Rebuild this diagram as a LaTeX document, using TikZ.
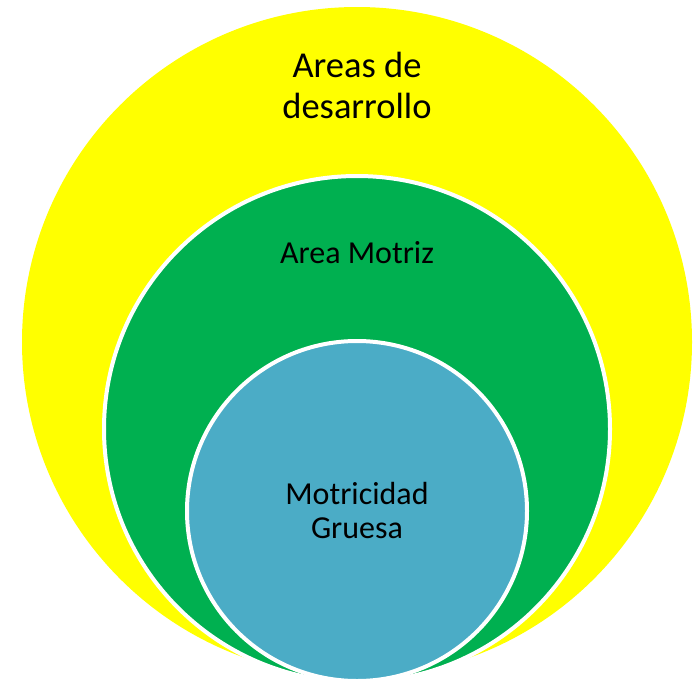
\documentclass[tikz,border=0pt]{standalone}
\usepackage{fontspec}
\setmainfont{Carlito}
\definecolor{ayellow}{HTML}{FFFF00}
\definecolor{agreen}{HTML}{00B050}
\definecolor{ablue}{HTML}{4BACC6}
\begin{document}
\begin{tikzpicture}[x=1pt,y=-1pt,
  ring/.style={circle, inner sep=0pt, outer sep=0pt},
  lbl/.style={inner sep=0pt, align=center, text=black}]
\useasboundingbox (0,0) rectangle (693,678);
\node[ring, fill=ayellow, minimum size=670pt] (outer) at (357,342) {};
\node[ring, fill=agreen, draw=white, line width=4pt, minimum size=506pt] (mid) at (357,429) {};
\node[ring, fill=ablue, draw=white, line width=4pt, minimum size=340pt] (inner) at (357,511) {};
\node[lbl, font=\fontsize{36.5}{41}\selectfont] (t1) at (357,85) {Areas de\\desarrollo};
\node[lbl, font=\fontsize{32}{37}\selectfont, anchor=base] (t2) at (357,263) {Area Motriz};
\node[lbl, font=\fontsize{32}{34}\selectfont] (t3) at (357,510) {Motricidad\\Gruesa};
\end{tikzpicture}
\end{document}
